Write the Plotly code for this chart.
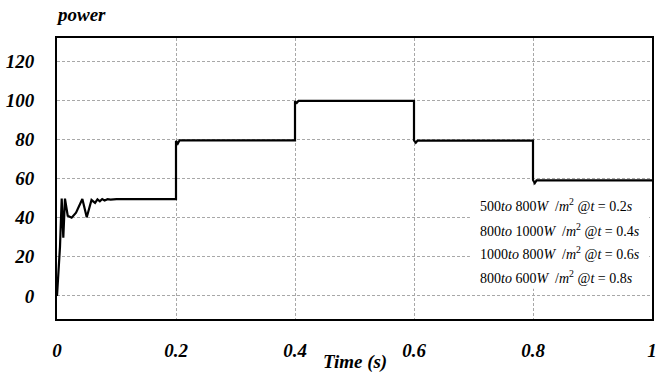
import plotly.graph_objects as go

# Time (s) and power values
time_s = [0, 0.005, 0.0079, 0.0106, 0.0134, 0.018, 0.0246, 0.032, 0.0426, 0.050,
          0.058, 0.064, 0.068, 0.072, 0.076, 0.080, 0.085, 0.090, 0.100, 0.200,
          0.200, 0.203, 0.206, 0.400, 0.400, 0.403, 0.406, 0.600, 0.600, 0.603,
          0.606, 0.800, 0.800, 0.803, 0.806, 1.000]
power = [0, 25, 49.7, 29.7, 49.7, 41, 40, 42.5, 49.5, 40.2,
         49, 47.5, 49.3, 48.3, 49.5, 48.8, 49.4, 49.2, 49.5, 49.5,
         79.2, 77.8, 79.5, 79.5, 99.5, 98.6, 99.7, 99.7, 79.5, 78.3,
         79.4, 79.4, 59.2, 57.6, 59.0, 59.0]

x_ticks = [0, 0.2, 0.4, 0.6, 0.8, 1]
x_tick_labels = ["0", "0.2", "0.4", "0.6", "0.8", "1"]
y_ticks = [0, 20, 40, 60, 80, 100, 120]
y_tick_labels = ["0", "20", "40", "60", "80", "100", "120"]

legend_lines = [
    "500<i>to</i> 800<i>W</i>  /<i>m</i><sup>2</sup> @<i>t</i> = 0.2<i>s</i>",
    "800<i>to</i> 1000<i>W</i>  /<i>m</i><sup>2</sup> @<i>t</i> = 0.4<i>s</i>",
    "1000<i>to</i> 800<i>W</i>  /<i>m</i><sup>2</sup> @<i>t</i> = 0.6<i>s</i>",
    "800<i>to</i> 600<i>W</i>  /<i>m</i><sup>2</sup> @<i>t</i> = 0.8<i>s</i>",
]

SERIF = "Liberation Serif, Times New Roman, serif"
tick_font = dict(family=SERIF, size=19, color="black", weight="bold", style="italic")

fig = go.Figure()
fig.add_trace(go.Scatter(x=time_s, y=power, mode="lines",
                         line=dict(color="black", width=2.2), showlegend=False))

# white box behind the annotation text
fig.add_shape(type="rect", xref="x", yref="y", x0=0.694, x1=0.995, y0=3.6, y1=56.5,
              fillcolor="white", line=dict(width=0), layer="above")

L, R, T, B = 57, 16, 38, 61
W, H = 668, 380
ph = H - T - B
ys = [205, 230, 253, 277]
for txt, yp in zip(legend_lines, ys):
    fig.add_annotation(text=txt, xref="paper", yref="paper",
                       x=(478 - L) / (W - L - R), y=(H - B - yp) / ph,
                       xanchor="left", yanchor="middle", showarrow=False,
                       font=dict(family=SERIF, size=14, color="black"))

fig.add_annotation(text="power", xref="paper", yref="paper",
                   x=(54 - L) / (W - L - R), y=(H - B - 15) / ph,
                   xanchor="left", yanchor="middle", showarrow=False,
                   font=dict(family=SERIF, size=19, color="black", weight="bold", style="italic"))
fig.add_annotation(text="Time (s)", xref="paper", yref="paper",
                   x=0.5, y=(H - B - 362) / ph,
                   xanchor="center", yanchor="middle", showarrow=False,
                   font=dict(family=SERIF, size=19, color="black", weight="bold", style="italic"))

grid = dict(showgrid=True, gridcolor="#a8a8a8", gridwidth=1, griddash="3px,2px",
            showline=True, linecolor="black", linewidth=2, mirror=True,
            zeroline=False, tickfont=tick_font, ticks="", automargin=False)
fig.update_xaxes(range=[0, 1], tickvals=x_ticks, ticktext=x_tick_labels,
                 ticklabelstandoff=13, **grid)
fig.update_yaxes(range=[-11.8, 131.8], tickvals=y_ticks, ticktext=y_tick_labels,
                 ticklabelstandoff=17, **grid)

fig.update_layout(width=W, height=H, margin=dict(l=L, r=R, t=T, b=B),
                  paper_bgcolor="white", plot_bgcolor="white")
fig.write_html("out.html", config={"displayModeBar": False},
               post_script="document.body.style.margin='0';document.body.style.padding='0';")
